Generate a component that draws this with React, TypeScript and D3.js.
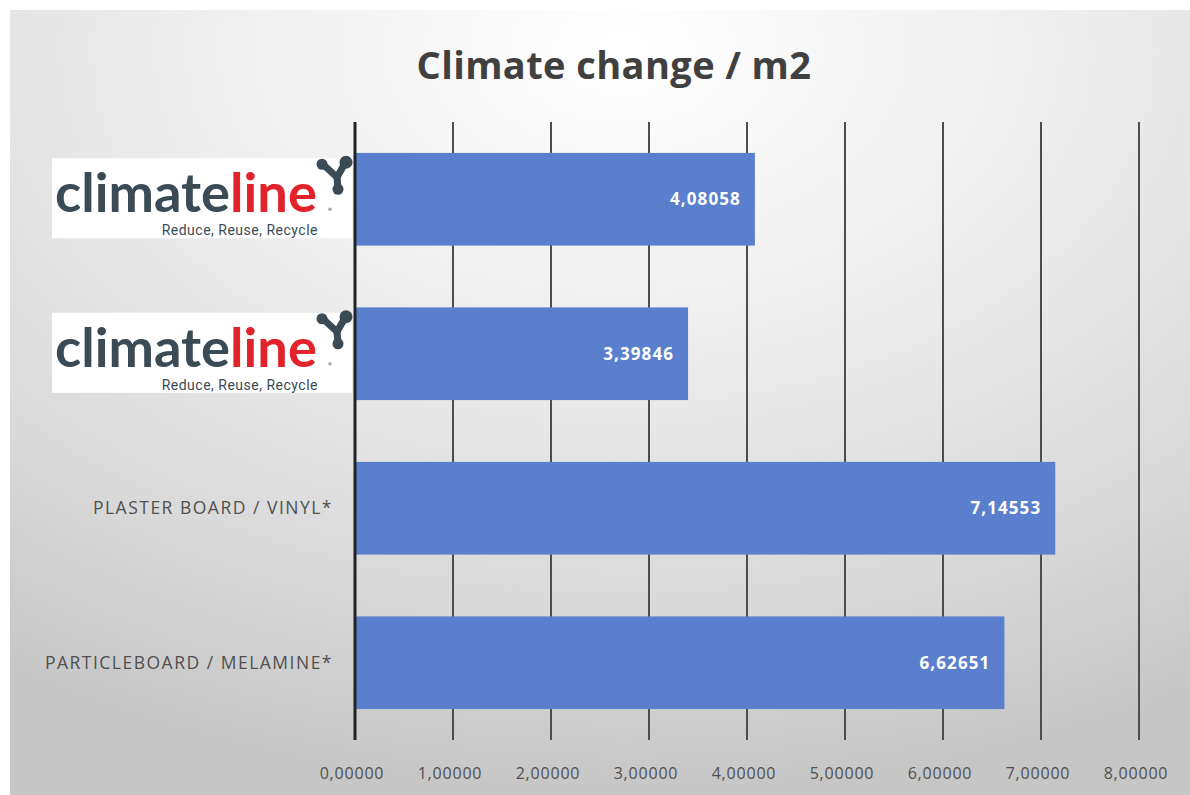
import React from "react";
import * as d3 from "d3";

const categories = ["climateline", "climateline", "PLASTER BOARD / VINYL*", "PARTICLEBOARD / MELAMINE*"];
const values = [4.08058, 3.39846, 7.14553, 6.62651];
const ticks = [0, 1, 2, 3, 4, 5, 6, 7, 8];
const title = "Climate change / m2";

const W = 1190;
const H = 795;

function fmt(v: number) {
  return v.toFixed(5).replace(".", ",");
}

function Logo({ x, y }: { x: number; y: number }) {
  const slate = "#3a4b56";
  return (
    <g transform={`translate(${x},${y})`}>
      <rect x={0} y={0} width={300} height={80} fill="#ffffff" />
      <text
        x={3}
        y={54}
        fontFamily="Lato, 'Open Sans', sans-serif"
        fontSize={53}
        fontWeight={700}
        textLength={262}
        lengthAdjust="spacingAndGlyphs"
      >
        <tspan fill={slate}>climate</tspan>
        <tspan fill="#e2232b">line</tspan>
      </text>
      <circle cx={278} cy={51} r={1.8} fill="#aaa" />
      <g stroke={slate} strokeWidth={7} strokeLinecap="round">
        <line x1={285} y1={19} x2={272} y2={7} />
        <line x1={285} y1={19} x2={293} y2={5} />
        <line x1={285} y1={19} x2={286} y2={30} />
      </g>
      <circle cx={270} cy={6} r={5.5} fill={slate} />
      <circle cx={294} cy={4} r={6.5} fill={slate} />
      <circle cx={286} cy={31} r={5.5} fill={slate} />
      <text x={266} y={77} textAnchor="end" fontFamily="Roboto, sans-serif" fontSize={14} letterSpacing={0.5} fill={slate}>
        Reduce, Reuse, Recycle
      </text>
    </g>
  );
}

export default function App() {
  const x = d3.scaleLinear().domain([0, 8]).range([355, 1139]);
  const y = d3
    .scaleBand<number>()
    .domain(d3.range(categories.length))
    .range([122, 740])
    .paddingInner(0.4)
    .paddingOuter(0.2);

  return (
    <svg width={W} height={H} style={{ position: "absolute", left: 0, top: 0 }}>
      <defs>
        <radialGradient id="bg" cx="0.52" cy="0.05" r="0.95" fx="0.52" fy="0.05">
          <stop offset="0" stopColor="#ffffff" />
          <stop offset="0.35" stopColor="#f0f0f0" />
          <stop offset="0.75" stopColor="#d9d9d9" />
          <stop offset="1" stopColor="#c6c6c6" />
        </radialGradient>
      </defs>
      <rect x={0} y={0} width={W} height={H} fill="#ffffff" />
      <rect x={10} y={10} width={W - 10} height={H - 10} fill="url(#bg)" />
      <text
        x={614}
        y={79}
        textAnchor="middle"
        fontFamily="'Open Sans', Lato, sans-serif"
        fontWeight={700}
        fontSize={38}
        letterSpacing={0.4}
        fill="#404040"
      >
        {title}
      </text>
      {ticks.slice(1).map((t) => (
        <line key={t} x1={x(t)} x2={x(t)} y1={122} y2={740} stroke="#4d4d4d" strokeWidth={2} />
      ))}
      {values.map((v, i) => (
        <g key={i}>
          <rect x={x(0)} y={y(i)} width={x(v) - x(0)} height={y.bandwidth()} fill="#5a7fcd" />
          <text
            x={x(v) - 14}
            y={(y(i) as number) + y.bandwidth() / 2 + 6}
            textAnchor="end"
            fontFamily="'Open Sans', Lato, sans-serif"
            fontWeight={700}
            fontSize={17}
            letterSpacing={1.1}
            fill="#ffffff"
          >
            {fmt(v)}
          </text>
        </g>
      ))}
      <line x1={x(0)} x2={x(0)} y1={122} y2={740} stroke="#222" strokeWidth={3} />
      {categories.map((c, i) => {
        const cy = (y(i) as number) + y.bandwidth() / 2;
        if (c === "climateline") {
          return <Logo key={i} x={52} y={cy - 41} />;
        }
        return (
          <text
            key={i}
            x={333}
            y={cy + 6}
            textAnchor="end"
            fontFamily="'Open Sans', Lato, sans-serif"
            fontSize={17.5}
            letterSpacing={1.5}
            fill="#505050"
          >
            {c}
          </text>
        );
      })}
      {ticks.map((t) => (
        <text
          key={t}
          x={x(t) - 3}
          y={779}
          textAnchor="middle"
          fontFamily="'Open Sans', Lato, sans-serif"
          fontSize={16}
          letterSpacing={0.8}
          fill="#505050"
        >
          {fmt(t)}
        </text>
      ))}
    </svg>
  );
}
